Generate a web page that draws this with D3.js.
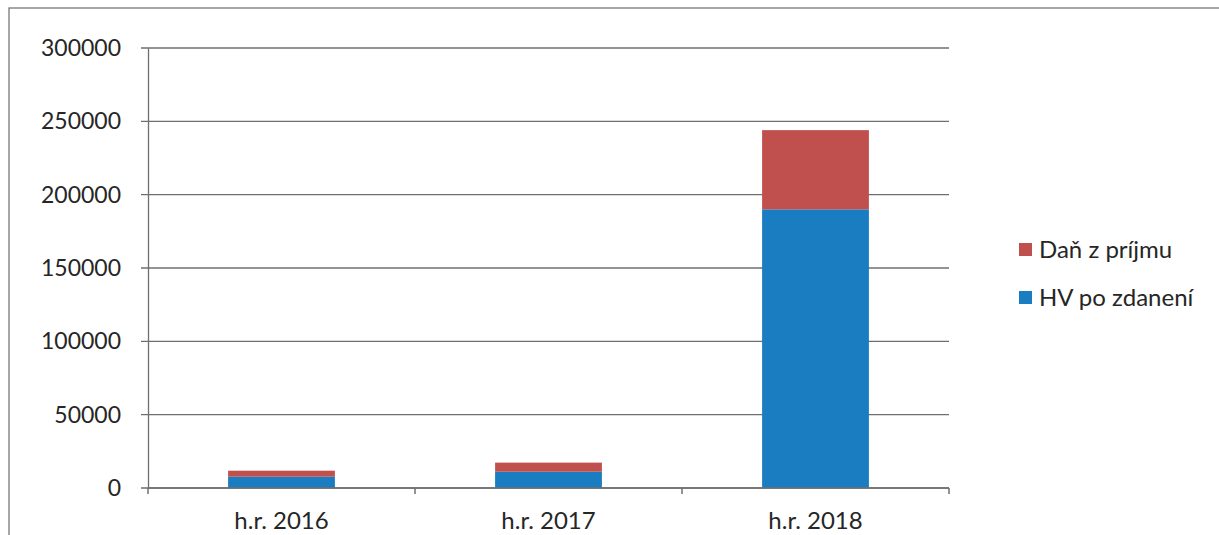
<!DOCTYPE html>
<html>
<head>
<meta charset="utf-8">
<script src="https://cdn.jsdelivr.net/npm/d3@7"></script>
<style>
  body { margin: 0; background: #fff; }
  svg { display: block; font-family: Lato, "Open Sans", sans-serif; }
</style>
</head>
<body>
<div id="chart"></div>
<script>
// data
let categories = ['h.r. 2016', 'h.r. 2017', 'h.r. 2018'];
let hvPoZdaneni = [7700, 11100, 190000];
let danZPrijmu = [4100, 6200, 54000];
let seriesNames = ['HV po zdanení', 'Daň z príjmu'];
let yTicks = [0, 50000, 100000, 150000, 200000, 250000, 300000];

let width = 1219, height = 535;
let margin = { top: 48, right: 270, bottom: 47, left: 148 };
let colors = { 'HV po zdanení': '#1a7cc1', 'Daň z príjmu': '#c0504d' };

let svg = d3.select('#chart').append('svg')
  .attr('width', width)
  .attr('height', height);

// outer frame (right and bottom fall outside the photo)
svg.append('rect')
  .attr('x', 9).attr('y', 8)
  .attr('width', 1240).attr('height', 600)
  .attr('fill', 'none')
  .attr('stroke', '#777')
  .attr('stroke-width', 1.3);

let x = d3.scaleBand()
  .domain(categories)
  .range([margin.left, width - margin.right])
  .paddingInner(0.6)
  .paddingOuter(0.3);

let y = d3.scaleLinear()
  .domain([0, 300000])
  .range([height - margin.bottom, margin.top]);

// gridlines
svg.append('g')
  .selectAll('line')
  .data(yTicks)
  .join('line')
  .attr('x1', margin.left - 7)
  .attr('x2', width - margin.right)
  .attr('y1', d => y(d))
  .attr('y2', d => y(d))
  .attr('stroke', '#6f6f6f')
  .attr('stroke-width', 1.3);

// y axis
let yAxis = svg.append('g')
  .attr('transform', 'translate(' + margin.left + ',0)')
  .call(d3.axisLeft(y).tickValues(yTicks).tickSize(0).tickPadding(27).tickFormat(d3.format('d')))
  .attr('font-family', null)
  .attr('font-size', null);
yAxis.select('.domain').attr('stroke', '#6f6f6f').attr('stroke-width', 1.3);
yAxis.selectAll('text')
  .attr('font-size', 23)
  .attr('fill', '#262626');

// stacked bars
let rows = categories.map((c, i) => ({
  cat: c,
  'HV po zdanení': hvPoZdaneni[i],
  'Daň z príjmu': danZPrijmu[i]
}));
let stacked = d3.stack().keys(seriesNames)(rows);

svg.append('g')
  .selectAll('g')
  .data(stacked)
  .join('g')
  .attr('fill', d => colors[d.key])
  .selectAll('rect')
  .data(d => d)
  .join('rect')
  .attr('x', d => x(d.data.cat))
  .attr('width', x.bandwidth())
  .attr('y', d => y(d[1]))
  .attr('height', d => y(d[0]) - y(d[1]));

// x axis with ticks between categories
let bottomY = height - margin.bottom;
let xEdge = d3.scaleLinear().domain([0, categories.length]).range([margin.left, width - margin.right]);
svg.append('line')
  .attr('x1', margin.left).attr('x2', width - margin.right)
  .attr('y1', bottomY).attr('y2', bottomY)
  .attr('stroke', '#6f6f6f').attr('stroke-width', 1.3);
svg.append('g')
  .selectAll('line')
  .data(d3.range(categories.length + 1))
  .join('line')
  .attr('x1', d => xEdge(d)).attr('x2', d => xEdge(d))
  .attr('y1', bottomY).attr('y2', bottomY + 6)
  .attr('stroke', '#6f6f6f').attr('stroke-width', 1.5);

svg.append('g')
  .selectAll('text')
  .data(categories)
  .join('text')
  .attr('x', d => x(d) + x.bandwidth() / 2)
  .attr('y', bottomY + 41)
  .attr('text-anchor', 'middle')
  .attr('font-size', 24)
  .attr('fill', '#262626')
  .text(d => d);

// legend
let legendItems = ['Daň z príjmu', 'HV po zdanení'];
let legend = svg.append('g')
  .selectAll('g')
  .data(legendItems)
  .join('g')
  .attr('transform', (d, i) => 'translate(1019,' + (250 + i * 48) + ')');
legend.append('rect')
  .attr('x', 0).attr('y', -7)
  .attr('width', 13).attr('height', 13)
  .attr('fill', d => colors[d]);
legend.append('text')
  .attr('x', 20).attr('y', 0)
  .attr('dy', '0.35em')
  .attr('font-size', 24)
  .attr('fill', '#262626')
  .text(d => d);
</script>
</body>
</html>
